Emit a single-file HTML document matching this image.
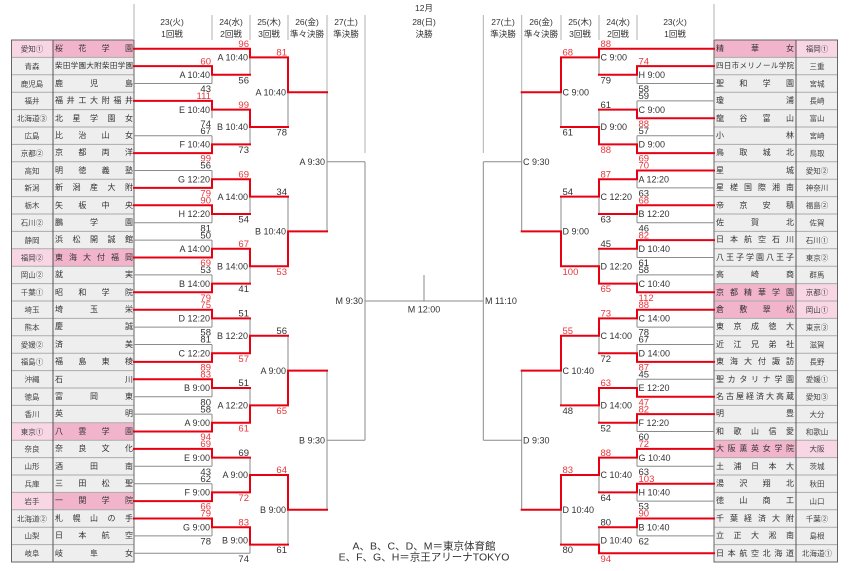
<!DOCTYPE html>
<html><head><meta charset="utf-8">
<style>
html,body{margin:0;padding:0;background:#fff;}
#c{position:relative;width:850px;height:571px;overflow:hidden;background:#fff;font-family:"Liberation Sans","Noto Sans CJK JP",sans-serif;}
svg{position:absolute;left:0;top:0;}
svg text{font-family:"Liberation Sans","Noto Sans CJK JP",sans-serif;}
.s{position:absolute;height:17.4px;line-height:17.4px;font-size:8px;text-align:justify;text-align-last:justify;text-justify:inter-character;color:#333;width:78px;}
.l{left:55px;}
.rt{left:716px;}
.sm{font-size:7.5px;}
.lb{font-size:9px;fill:#333;}
.sc{font-size:9.5px;fill:#333;}
.sr{font-size:9.5px;fill:#e8363c;}
.pf{font-size:7.5px;fill:#444;text-anchor:middle;}
.hd{font-size:8.5px;fill:#333;text-anchor:middle;}
</style></head>
<body>
<div id="c">
<svg width="850" height="571" viewBox="0 0 850 571" xmlns="http://www.w3.org/2000/svg">
<!-- tables -->
<rect x="11" y="40" width="123" height="522" fill="#eeeeee"/>
<rect x="714" y="40" width="124" height="522" fill="#eeeeee"/>
<!-- pink rows left: 0,12,22,26 -->
<g>
<rect x="11" y="40" width="42" height="17.4" fill="#f9d6e4"/><rect x="53" y="40" width="81" height="17.4" fill="#f2b4ca"/>
<rect x="11" y="248.8" width="42" height="17.4" fill="#f9d6e4"/><rect x="53" y="248.8" width="81" height="17.4" fill="#f2b4ca"/>
<rect x="11" y="422.8" width="42" height="17.4" fill="#f9d6e4"/><rect x="53" y="422.8" width="81" height="17.4" fill="#f2b4ca"/>
<rect x="11" y="492.4" width="42" height="17.4" fill="#f9d6e4"/><rect x="53" y="492.4" width="81" height="17.4" fill="#f2b4ca"/>
<!-- pink rows right: 0,14,15,23 -->
<rect x="714" y="40" width="82" height="17.4" fill="#f2b4ca"/><rect x="796" y="40" width="42" height="17.4" fill="#f9d6e4"/>
<rect x="714" y="283.6" width="82" height="34.8" fill="#f2b4ca"/><rect x="796" y="283.6" width="42" height="34.8" fill="#f9d6e4"/>
<rect x="714" y="440.2" width="82" height="17.4" fill="#f2b4ca"/><rect x="796" y="440.2" width="42" height="17.4" fill="#f9d6e4"/>
</g>
<path d="M11 57.4H134M11 74.8H134M11 92.2H134M11 109.6H134M11 127H134M11 144.4H134M11 161.8H134M11 179.2H134M11 196.6H134M11 214H134M11 231.4H134M11 248.8H134M11 266.2H134M11 283.6H134M11 301H134M11 318.4H134M11 335.8H134M11 353.2H134M11 370.6H134M11 388H134M11 405.4H134M11 422.8H134M11 440.2H134M11 457.6H134M11 475H134M11 492.4H134M11 509.8H134M11 527.2H134M11 544.6H134
M714 57.4H838M714 74.8H838M714 92.2H838M714 109.6H838M714 127H838M714 144.4H838M714 161.8H838M714 179.2H838M714 196.6H838M714 214H838M714 231.4H838M714 248.8H838M714 266.2H838M714 283.6H838M714 301H838M714 318.4H838M714 335.8H838M714 353.2H838M714 370.6H838M714 388H838M714 405.4H838M714 422.8H838M714 440.2H838M714 457.6H838M714 475H838M714 492.4H838M714 509.8H838M714 527.2H838M714 544.6H838" stroke="#ababab" stroke-width="1" fill="none"/>
<path d="M53 40V562M796 40V562" stroke="#555" stroke-width="1" fill="none"/>
<rect x="11.5" y="40" width="122.5" height="522" fill="none" stroke="#666" stroke-width="1"/>
<rect x="714" y="40" width="123.5" height="522" fill="none" stroke="#666" stroke-width="1"/>

<!-- prefecture texts left -->
<g class="pf">
<text x="32" y="51.5">愛知①</text><text x="32" y="68.9">青森</text><text x="32" y="86.3">鹿児島</text><text x="32" y="103.7">福井</text><text x="32" y="121.1">北海道③</text><text x="32" y="138.5">広島</text><text x="32" y="155.9">京都②</text><text x="32" y="173.3">高知</text><text x="32" y="190.7">新潟</text><text x="32" y="208.1">栃木</text><text x="32" y="225.5">石川②</text><text x="32" y="242.9">静岡</text><text x="32" y="260.3">福岡②</text><text x="32" y="277.7">岡山②</text><text x="32" y="295.1">千葉①</text><text x="32" y="312.5">埼玉</text><text x="32" y="329.9">熊本</text><text x="32" y="347.3">愛媛②</text><text x="32" y="364.7">福島①</text><text x="32" y="382.1">沖縄</text><text x="32" y="399.5">徳島</text><text x="32" y="416.9">香川</text><text x="32" y="434.3">東京①</text><text x="32" y="451.7">奈良</text><text x="32" y="469.1">山形</text><text x="32" y="486.5">兵庫</text><text x="32" y="503.9">岩手</text><text x="32" y="521.3">北海道②</text><text x="32" y="538.7">山梨</text><text x="32" y="556.1">岐阜</text>
</g>
<!-- prefecture texts right -->
<g class="pf">
<text x="817" y="51.5">福岡①</text><text x="817" y="68.9">三重</text><text x="817" y="86.3">宮城</text><text x="817" y="103.7">長崎</text><text x="817" y="121.1">富山</text><text x="817" y="138.5">宮崎</text><text x="817" y="155.9">鳥取</text><text x="817" y="173.3">愛知②</text><text x="817" y="190.7">神奈川</text><text x="817" y="208.1">福島②</text><text x="817" y="225.5">佐賀</text><text x="817" y="242.9">石川①</text><text x="817" y="260.3">東京②</text><text x="817" y="277.7">群馬</text><text x="817" y="295.1">京都①</text><text x="817" y="312.5">岡山①</text><text x="817" y="329.9">東京③</text><text x="817" y="347.3">滋賀</text><text x="817" y="364.7">長野</text><text x="817" y="382.1">愛媛①</text><text x="817" y="399.5">愛知③</text><text x="817" y="416.9">大分</text><text x="817" y="434.3">和歌山</text><text x="817" y="451.7">大阪</text><text x="817" y="469.1">茨城</text><text x="817" y="486.5">秋田</text><text x="817" y="503.9">山口</text><text x="817" y="521.3">千葉②</text><text x="817" y="538.7">島根</text><text x="817" y="556.1">北海道①</text>
</g>

<!-- header separators -->
<path d="M134 4V40M212 15V40M250 15V40M288 15V40M327 15V92M365 15V153M483.3 15V153M521.7 15V92M561 15V40M599 15V40M637 15V40M714 4V40" stroke="#b0b0b0" stroke-width="1" fill="none"/>
<!-- headers -->
<g class="hd">
<text x="172" y="25">23(火)</text><text x="172" y="37">1回戦</text>
<text x="231" y="25">24(水)</text><text x="231" y="37">2回戦</text>
<text x="269" y="25">25(木)</text><text x="269" y="37">3回戦</text>
<text x="307" y="25">26(金)</text><text x="307" y="37">準々決勝</text>
<text x="346" y="25">27(土)</text><text x="346" y="37">準決勝</text>
<text x="424" y="11">12月</text><text x="424" y="25">28(日)</text><text x="424" y="37">決勝</text>
<text x="503" y="25">27(土)</text><text x="503" y="37">準決勝</text>
<text x="541" y="25">26(金)</text><text x="541" y="37">準々決勝</text>
<text x="580" y="25">25(木)</text><text x="580" y="37">3回戦</text>
<text x="618" y="25">24(水)</text><text x="618" y="37">2回戦</text>
<text x="675" y="25">23(火)</text><text x="675" y="37">1回戦</text>
</g>

<!-- gray bracket lines -->
<path stroke="#8a8a8a" stroke-width="1" fill="none" d="
M134 83.5H212M134 135.7H212M134 170.5H212M134 222.7H212M134 240.1H212M134 274.9H212M134 327.1H212M134 344.5H212M134 396.7H212M134 414.1H212M134 466.3H212M134 483.7H212M134 535.9H212M134 553.3H250
M212 66.1V83.5M212 100.9V118.3M212 135.7V153.1M212 170.5V187.9M212 205.3V222.7M212 240.1V257.5M212 274.9V292.3M212 309.7V327.1M212 344.5V361.9M212 379.3V396.7M212 414.1V431.5M212 448.9V466.3M212 483.7V501.1M212 518.5V535.9
M250 48.7V74.8M250 109.6V144.4M250 179.2V214M250 248.8V283.6M250 318.4V353.2M250 388V422.8M250 457.6V492.4M250 527.2V553.3
M288 57.4V127M288 196.6V266.2M288 335.8V405.4M288 475V544.6
M327 92.2V231.4M327 370.6V509.8M327 161.8H365M327 440.2H365
M365 161.8V440.2M365 301H483.3M424 275V301
M521.7 92.2V231.4M521.7 370.6V509.8M483.3 161.8H521.7M483.3 440.2H521.7M483.3 161.8V440.2
M637 83.5H714M637 100.9H714M637 135.7H714M637 187.9H714M637 222.7H714M637 257.5H714M637 274.9H714M637 327.1H714M637 344.5H714M637 379.3H714M637 431.5H714M637 466.3H714M637 501.1H714M637 535.9H714
M637 66.1V83.5M637 100.9V118.3M637 135.7V153.1M637 170.5V187.9M637 205.3V222.7M637 240.1V257.5M637 274.9V292.3M637 309.7V327.1M637 344.5V361.9M637 379.3V396.7M637 414.1V431.5M637 448.9V466.3M637 483.7V501.1M637 518.5V535.9
M599 48.7V74.8M599 109.6V144.4M599 179.2V214M599 248.8V283.6M599 318.4V353.2M599 388V422.8M599 457.6V492.4M599 527.2V553.3
M561 57.4V127M561 196.6V266.2M561 335.8V405.4M561 475V544.6"/>

<!-- red bracket lines -->
<path stroke="#e60012" stroke-width="2" fill="none" stroke-linejoin="miter" stroke-linecap="square" d="
M134 48.7H250
M134 66.1H212M134 100.9H212M134 153.1H212M134 187.9H212M134 205.3H212M134 257.5H212M134 292.3H212M134 309.7H212M134 361.9H212M134 379.3H212M134 431.5H212M134 448.9H212M134 501.1H212M134 518.5H212
M212 66.1V74.8H250M212 100.9V109.6H250M212 153.1V144.4H250M212 187.9V179.2H250M212 205.3V214H250M212 257.5V248.8H250M212 292.3V283.6H250M212 309.7V318.4H250M212 361.9V353.2H250M212 379.3V388H250M212 431.5V422.8H250M212 448.9V457.6H250M212 501.1V492.4H250M212 518.5V527.2H250
M250 48.7V57.4H288M250 109.6V127H288M250 179.2V196.6H288M250 248.8V266.2H288M250 353.2V335.8H288M250 422.8V405.4H288M250 492.4V475H288M250 527.2V544.6H288
M288 57.4V92.2H327M288 266.2V231.4H327M288 405.4V370.6H327M288 475V509.8H327
M599 48.7H714M599 553.3H714
M637 66.1H714M637 118.3H714M637 153.1H714M637 170.5H714M637 205.3H714M637 240.1H714M637 292.3H714M637 309.7H714M637 361.9H714M637 396.7H714M637 414.1H714M637 448.9H714M637 483.7H714M637 518.5H714
M637 66.1V74.8H599M637 118.3V109.6H599M637 153.1V144.4H599M637 170.5V179.2H599M637 205.3V214H599M637 240.1V248.8H599M637 292.3V283.6H599M637 309.7V318.4H599M637 361.9V353.2H599M637 396.7V388H599M637 414.1V422.8H599M637 448.9V457.6H599M637 483.7V492.4H599M637 518.5V527.2H599
M599 48.7V57.4H561M599 144.4V127H561M599 179.2V196.6H561M599 283.6V266.2H561M599 318.4V335.8H561M599 388V405.4H561M599 457.6V475H561M599 553.3V544.6H561
M561 57.4V92.2H521.7M561 266.2V231.4H521.7M561 335.8V370.6H521.7M561 475V509.8H521.7"/>

<!-- left labels -->
<g class="lb" text-anchor="end">
<text x="210" y="78">A 10:40</text><text x="210" y="112.8">E 10:40</text><text x="210" y="147.6">F 10:40</text><text x="210" y="182.4">G 12:20</text><text x="210" y="217.2">H 12:20</text><text x="210" y="252">A 14:00</text><text x="210" y="286.8">B 14:00</text><text x="210" y="321.6">D 12:20</text><text x="210" y="356.4">C 12:20</text><text x="210" y="391.2">B 9:00</text><text x="210" y="426">A 9:00</text><text x="210" y="460.8">E 9:00</text><text x="210" y="495.6">F 9:00</text><text x="210" y="530.4">G 9:00</text>
<text x="248" y="60.6">A 10:40</text><text x="248" y="130.2">B 10:40</text><text x="248" y="199.8">A 14:00</text><text x="248" y="269.4">B 14:00</text><text x="248" y="339">B 12:20</text><text x="248" y="408.6">A 12:20</text><text x="248" y="478.2">A 9:00</text><text x="248" y="543.5">B 9:00</text>
<text x="286" y="95.4">A 10:40</text><text x="286" y="234.6">B 10:40</text><text x="286" y="373.8">A 9:00</text><text x="286" y="513">B 9:00</text>
<text x="325" y="165">A 9:30</text><text x="325" y="443.4">B 9:30</text>
<text x="363" y="304.2">M 9:30</text>
</g>
<text class="lb" x="424" y="312.5" text-anchor="middle">M 12:00</text>
<!-- right labels -->
<g class="lb">
<text x="638.5" y="78">H 9:00</text><text x="638.5" y="112.8">C 9:00</text><text x="638.5" y="147.6">D 9:00</text><text x="638.5" y="182.4">A 12:20</text><text x="638.5" y="217.2">B 12:20</text><text x="638.5" y="252">D 10:40</text><text x="638.5" y="286.8">C 10:40</text><text x="638.5" y="321.6">C 14:00</text><text x="638.5" y="356.4">D 14:00</text><text x="638.5" y="391.2">E 12:20</text><text x="638.5" y="426">F 12:20</text><text x="638.5" y="460.8">G 10:40</text><text x="638.5" y="495.6">H 10:40</text><text x="638.5" y="530.4">B 10:40</text>
<text x="600.5" y="60.6">C 9:00</text><text x="600.5" y="130.2">D 9:00</text><text x="600.5" y="199.8">C 12:20</text><text x="600.5" y="269.4">D 12:20</text><text x="600.5" y="339">C 14:00</text><text x="600.5" y="408.6">D 14:00</text><text x="600.5" y="478.2">C 10:40</text><text x="600.5" y="543.5">D 10:40</text>
<text x="562.5" y="95.4">C 9:00</text><text x="562.5" y="234.6">D 9:00</text><text x="562.5" y="373.8">C 10:40</text><text x="562.5" y="513">D 10:40</text>
<text x="523" y="165">C 9:30</text><text x="523" y="443.4">D 9:30</text>
<text x="485" y="304.2">M 11:10</text>
</g>

<!-- left scores -->
<g text-anchor="end">
<text class="sr" x="211" y="64.3">60</text><text class="sc" x="211" y="92.1">43</text>
<text class="sr" x="211" y="99.1">111</text><text class="sc" x="211" y="126.9">74</text>
<text class="sc" x="211" y="133.9">67</text><text class="sr" x="211" y="161.7">99</text>
<text class="sc" x="211" y="168.7">56</text><text class="sr" x="211" y="196.5">79</text>
<text class="sr" x="211" y="203.5">90</text><text class="sc" x="211" y="231.3">81</text>
<text class="sc" x="211" y="238.3">50</text><text class="sr" x="211" y="266.1">69</text>
<text class="sc" x="211" y="273.1">53</text><text class="sr" x="211" y="300.9">79</text>
<text class="sr" x="211" y="307.9">75</text><text class="sc" x="211" y="335.7">58</text>
<text class="sc" x="211" y="342.7">81</text><text class="sr" x="211" y="370.5">89</text>
<text class="sr" x="211" y="377.5">83</text><text class="sc" x="211" y="405.3">80</text>
<text class="sc" x="211" y="412.3">58</text><text class="sr" x="211" y="440.1">94</text>
<text class="sr" x="211" y="447.1">69</text><text class="sc" x="211" y="474.9">43</text>
<text class="sc" x="211" y="481.9">62</text><text class="sr" x="211" y="509.7">66</text>
<text class="sr" x="211" y="516.7">79</text><text class="sc" x="211" y="544.5">78</text>
<text class="sr" x="249" y="46.9">96</text><text class="sc" x="249" y="83.4">56</text>
<text class="sr" x="249" y="107.8">99</text><text class="sc" x="249" y="153">73</text>
<text class="sr" x="249" y="177.4">69</text><text class="sc" x="249" y="222.6">54</text>
<text class="sr" x="249" y="247">67</text><text class="sc" x="249" y="292.2">41</text>
<text class="sc" x="249" y="316.6">51</text><text class="sr" x="249" y="361.8">57</text>
<text class="sc" x="249" y="386.2">51</text><text class="sr" x="249" y="431.4">61</text>
<text class="sc" x="249" y="455.8">69</text><text class="sr" x="249" y="501">72</text>
<text class="sr" x="249" y="525.4">83</text><text class="sc" x="249" y="561.9">74</text>
<text class="sr" x="287" y="55.6">81</text><text class="sc" x="287" y="135.6">78</text>
<text class="sc" x="287" y="194.8">34</text><text class="sr" x="287" y="274.8">53</text>
<text class="sc" x="287" y="334">56</text><text class="sr" x="287" y="414">65</text>
<text class="sr" x="287" y="473.2">64</text><text class="sc" x="287" y="553.2">61</text>
</g>
<!-- right scores -->
<g>
<text class="sr" x="638.5" y="64.3">74</text><text class="sc" x="638.5" y="92.1">58</text>
<text class="sc" x="638.5" y="99.1">59</text><text class="sr" x="638.5" y="126.9">88</text>
<text class="sc" x="638.5" y="133.9">57</text><text class="sr" x="638.5" y="161.7">69</text>
<text class="sr" x="638.5" y="168.7">70</text><text class="sc" x="638.5" y="196.5">63</text>
<text class="sr" x="638.5" y="203.5">68</text><text class="sc" x="638.5" y="231.3">46</text>
<text class="sr" x="638.5" y="238.3">82</text><text class="sc" x="638.5" y="266.1">61</text>
<text class="sc" x="638.5" y="273.1">58</text><text class="sr" x="638.5" y="300.9">112</text>
<text class="sr" x="638.5" y="307.9">88</text><text class="sc" x="638.5" y="335.7">78</text>
<text class="sc" x="638.5" y="342.7">67</text><text class="sr" x="638.5" y="370.5">87</text>
<text class="sc" x="638.5" y="377.5">45</text><text class="sr" x="638.5" y="405.3">47</text>
<text class="sr" x="638.5" y="412.3">82</text><text class="sc" x="638.5" y="440.1">60</text>
<text class="sr" x="638.5" y="447.1">72</text><text class="sc" x="638.5" y="474.9">63</text>
<text class="sr" x="638.5" y="481.9">103</text><text class="sc" x="638.5" y="509.7">53</text>
<text class="sr" x="638.5" y="516.7">90</text><text class="sc" x="638.5" y="544.5">62</text>
<text class="sr" x="600.5" y="46.9">88</text><text class="sc" x="600.5" y="83.4">79</text>
<text class="sc" x="600.5" y="107.8">61</text><text class="sr" x="600.5" y="153">88</text>
<text class="sr" x="600.5" y="177.4">87</text><text class="sc" x="600.5" y="222.6">63</text>
<text class="sc" x="600.5" y="247">45</text><text class="sr" x="600.5" y="292.2">65</text>
<text class="sr" x="600.5" y="316.6">73</text><text class="sc" x="600.5" y="361.8">72</text>
<text class="sr" x="600.5" y="386.2">63</text><text class="sc" x="600.5" y="431.4">52</text>
<text class="sr" x="600.5" y="455.8">88</text><text class="sc" x="600.5" y="501">64</text>
<text class="sc" x="600.5" y="525.4">80</text><text class="sr" x="600.5" y="561.9">94</text>
<text class="sr" x="562.5" y="55.6">68</text><text class="sc" x="562.5" y="135.6">61</text>
<text class="sc" x="562.5" y="194.8">54</text><text class="sr" x="562.5" y="274.8">100</text>
<text class="sr" x="562.5" y="334">55</text><text class="sc" x="562.5" y="414">48</text>
<text class="sr" x="562.5" y="473.2">83</text><text class="sc" x="562.5" y="553.2">80</text>
</g>

<!-- footer -->
<text x="424" y="549.5" text-anchor="middle" style="font-size:10.5px;fill:#333">A、B、C、D、M＝東京体育館</text>
<text x="424" y="560.5" text-anchor="middle" style="font-size:10.5px;fill:#333">E、F、G、H＝京王アリーナTOKYO</text>
</svg>

<!-- left school names -->
<div class="s l" style="top:40px">桜花学園</div>
<div class="s l sm" style="top:57.4px">柴田学園大附柴田学園</div>
<div class="s l" style="top:74.8px">鹿児島</div>
<div class="s l" style="top:92.2px">福井工大附福井</div>
<div class="s l" style="top:109.6px">北星学園女</div>
<div class="s l" style="top:127px">比治山女</div>
<div class="s l" style="top:144.4px">京都両洋</div>
<div class="s l" style="top:161.8px">明徳義塾</div>
<div class="s l" style="top:179.2px">新潟産大附</div>
<div class="s l" style="top:196.6px">矢板中央</div>
<div class="s l" style="top:214px">鵬学園</div>
<div class="s l" style="top:231.4px">浜松開誠館</div>
<div class="s l" style="top:248.8px">東海大付福岡</div>
<div class="s l" style="top:266.2px">就実</div>
<div class="s l" style="top:283.6px">昭和学院</div>
<div class="s l" style="top:301px">埼玉栄</div>
<div class="s l" style="top:318.4px">慶誠</div>
<div class="s l" style="top:335.8px">済美</div>
<div class="s l" style="top:353.2px">福島東稜</div>
<div class="s l" style="top:370.6px">石川</div>
<div class="s l" style="top:388px">富岡東</div>
<div class="s l" style="top:405.4px">英明</div>
<div class="s l" style="top:422.8px">八雲学園</div>
<div class="s l" style="top:440.2px">奈良文化</div>
<div class="s l" style="top:457.6px">酒田南</div>
<div class="s l" style="top:475px">三田松聖</div>
<div class="s l" style="top:492.4px">一関学院</div>
<div class="s l" style="top:509.8px">札幌山の手</div>
<div class="s l" style="top:527.2px">日本航空</div>
<div class="s l" style="top:544.6px">岐阜女</div>

<!-- right school names -->
<div class="s rt" style="top:40px">精華女</div>
<div class="s rt sm" style="top:57.4px">四日市メリノール学院</div>
<div class="s rt" style="top:74.8px">聖和学園</div>
<div class="s rt" style="top:92.2px">瓊浦</div>
<div class="s rt" style="top:109.6px">龍谷富山</div>
<div class="s rt" style="top:127px">小林</div>
<div class="s rt" style="top:144.4px">鳥取城北</div>
<div class="s rt" style="top:161.8px">星城</div>
<div class="s rt" style="top:179.2px">星槎国際湘南</div>
<div class="s rt" style="top:196.6px">帝京安積</div>
<div class="s rt" style="top:214px">佐賀北</div>
<div class="s rt" style="top:231.4px">日本航空石川</div>
<div class="s rt" style="top:248.8px">八王子学園八王子</div>
<div class="s rt" style="top:266.2px">高崎商</div>
<div class="s rt" style="top:283.6px">京都精華学園</div>
<div class="s rt" style="top:301px">倉敷翠松</div>
<div class="s rt" style="top:318.4px">東京成徳大</div>
<div class="s rt" style="top:335.8px">近江兄弟社</div>
<div class="s rt" style="top:353.2px">東海大付諏訪</div>
<div class="s rt" style="top:370.6px">聖カタリナ学園</div>
<div class="s rt" style="top:388px">名古屋経済大高蔵</div>
<div class="s rt" style="top:405.4px">明豊</div>
<div class="s rt" style="top:422.8px">和歌山信愛</div>
<div class="s rt" style="top:440.2px">大阪薫英女学院</div>
<div class="s rt" style="top:457.6px">土浦日本大</div>
<div class="s rt" style="top:475px">湯沢翔北</div>
<div class="s rt" style="top:492.4px">徳山商工</div>
<div class="s rt" style="top:509.8px">千葉経済大附</div>
<div class="s rt" style="top:527.2px">立正大淞南</div>
<div class="s rt" style="top:544.6px">日本航空北海道</div>
</div>
</body></html>
